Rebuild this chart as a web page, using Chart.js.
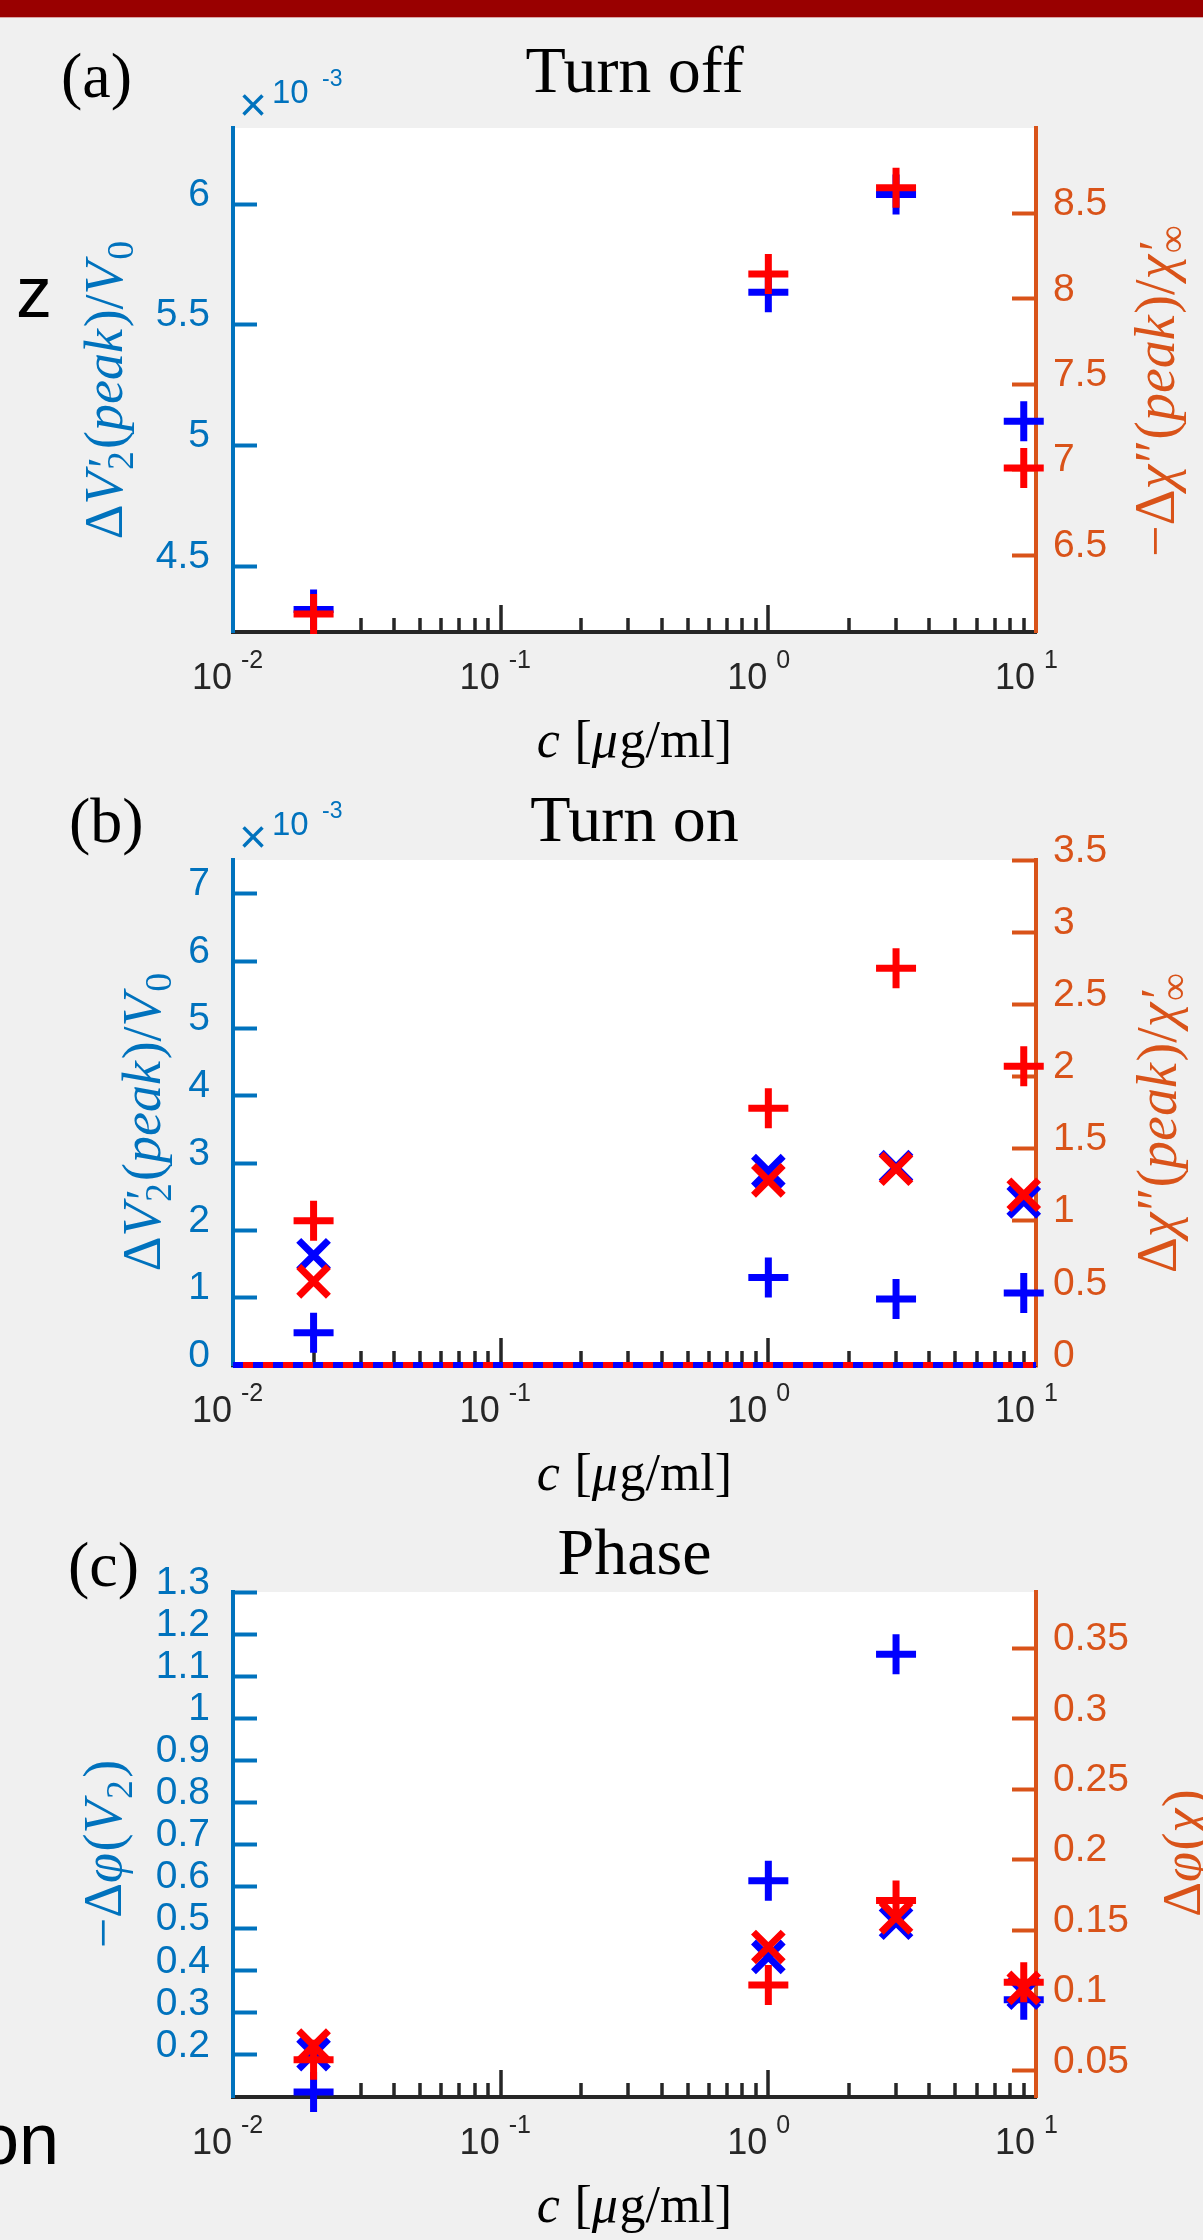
<!DOCTYPE html>
<html>
<head>
<meta charset="utf-8">
<script src="https://cdn.jsdelivr.net/npm/chart.js@4.4.1/dist/chart.umd.min.js"></script>
<style>
  body { margin: 0; background: #f0f0f0; width: 1203px; height: 2240px; position: relative; overflow: hidden; }
  #bar { position: absolute; left: 0; top: 0; width: 1203px; height: 17px; background: #990000; border-bottom: 1px solid #d9a3a3; }
  canvas { position: absolute; left: 0; top: 0; }
</style>
</head>
<body>
<div id="bar"></div>
<canvas id="pa" width="1203" height="2240"></canvas>
<canvas id="pb" width="1203" height="2240"></canvas>
<canvas id="pc" width="1203" height="2240"></canvas>
<script>
// concentration c [ug/ml]
const conc = [0.02, 1, 3, 9];

// (a) Turn off
const offV = [4.32, 5.635, 6.04, 5.10];      // dV2'(peak)/V0, x10^-3
const offChi = [6.155, 8.146, 8.65, 7.01];   // -dChi''(peak)/chi'inf

// (b) Turn on
const onVPlus = [0.48, 1.30, 0.98, 1.07];    // x10^-3
const onVCross = [1.63, 2.88, 2.94, 2.43];   // x10^-3
const onChiPlus = [1.00, 1.78, 2.75, 2.07];
const onChiCross = [0.58, 1.28, 1.36, 1.18];
const zeroX = [0.01, 10];
const zeroY = [0, 0];

// (c) Phase
const phVPlus = [0.112, 0.614, 1.152, 0.331];
const phVCross = [0.202, 0.433, 0.514, 0.348];
const phChiPlus = [0.058, 0.111, 0.171, 0.113];
const phChiCross = [0.068, 0.138, 0.159, 0.109];

// axis ranges and tick labels
const xRange = [0.01, 10];
const xMajor = [0.01, 0.1, 1, 10];
const xExp = ['-2', '-1', '0', '1'];
const rangeAL = [4.227, 6.315], ticksAL = [4.5, 5, 5.5, 6];
const rangeAR = [6.05, 9.0],    ticksAR = [6.5, 7, 7.5, 8, 8.5];
const rangeBL = [0, 7.5],       ticksBL = [0, 1, 2, 3, 4, 5, 6, 7];
const rangeBR = [0, 3.5],       ticksBR = [0, 0.5, 1, 1.5, 2, 2.5, 3, 3.5];
const rangeCL = [0.1, 1.3],     ticksCL = [0.2, 0.3, 0.4, 0.5, 0.6, 0.7, 0.8, 0.9, 1, 1.1, 1.2, 1.3];
const rangeCR = [0.0315, 0.39], ticksCR = [0.05, 0.1, 0.15, 0.2, 0.25, 0.3, 0.35];

const SERIF = '"Liberation Serif", "DejaVu Serif", serif';
const SANS = '"Liberation Sans", Arial, sans-serif';
const AX_BLUE = '#0072BD', AX_ORANGE = '#D95319', BLUE = '#0000FF', RED = '#FF0000', DARK = '#262626';

// minor + major tick values of the log axis
const xTickVals = [];
[-2, -1, 0].forEach(e => { for (let m = 1; m <= 9; m++) xTickVals.push(Number((m * Math.pow(10, e)).toPrecision(3))); });
xTickVals.push(10);

// rich text pieces for the LaTeX-like labels
const R = t => ({ t });
const I = t => ({ t, it: true });
const S = (sup, sub) => ({ sup, sub });

const labV = [R('Δ'), I('V'), S('′', '2'), R('('), I('peak'), R(')/'), I('V'), S('', '0')];
const labChiOff = [R('−Δ'), I('χ'), R('″'), R('('), I('peak'), R(')/'), I('χ'), S('′', '∞')];
const labChiOn = [R('Δ'), I('χ'), R('″'), R('('), I('peak'), R(')/'), I('χ'), S('′', '∞')];
const labPhV = [R('−Δ'), I('φ'), R('('), I('V'), S('', '2'), R(')')];
const labPhChi = [R('Δ'), I('φ'), R('('), I('χ'), R(')')];
const labX = [I('c'), R(' ['), I('μ'), R('g/ml]')];

function runWidth(ctx, r, size) {
  if (r.t !== undefined) {
    ctx.font = (r.it ? 'italic ' : '') + size + 'px ' + SERIF;
    return ctx.measureText(r.t).width + (r.it ? size * 0.03 : 0);
  }
  ctx.font = (size * 0.9) + 'px ' + SERIF;
  const a = ctx.measureText(r.sup).width;
  ctx.font = (size * 0.7) + 'px ' + SERIF;
  const b = ctx.measureText(r.sub).width;
  return Math.max(a, b) + size * 0.04;
}

// x, y: for rotated text x is the baseline and y the centre; otherwise x centre, y baseline
function drawRich(ctx, runs, size, x, y, rotated, color) {
  ctx.save();
  ctx.fillStyle = color;
  ctx.textBaseline = 'alphabetic';
  ctx.textAlign = 'left';
  const widths = runs.map(r => runWidth(ctx, r, size));
  const total = widths.reduce((s, w) => s + w, 0);
  ctx.translate(x, y);
  if (rotated) ctx.rotate(-Math.PI / 2);
  let px = -total / 2;
  runs.forEach((r, i) => {
    if (r.t !== undefined) {
      ctx.font = (r.it ? 'italic ' : '') + size + 'px ' + SERIF;
      ctx.fillText(r.t, px, 0);
    } else {
      ctx.font = (size * 0.9) + 'px ' + SERIF;
      ctx.fillText(r.sup, px + size * 0.04, -size * 0.02);
      ctx.font = (size * 0.7) + 'px ' + SERIF;
      ctx.fillText(r.sub, px, size * 0.2);
    }
    px += widths[i];
  });
  ctx.restore();
}

function marks(ys, color, style, axis, order) {
  const r = style === 'cross' ? 20 : 21;
  return {
    data: conc.map((c, i) => ({ x: c, y: ys[i] })),
    yAxisID: axis, order: order, clip: false, showLine: false,
    pointStyle: style, pointRadius: r, pointHoverRadius: r,
    pointBorderWidth: 7, pointHoverBorderWidth: 7,
    pointBorderColor: color, pointBackgroundColor: color
  };
}

function zeroLine(color, axis, offset) {
  return {
    data: zeroX.map((x, i) => ({ x, y: zeroY[i] })),
    yAxisID: axis, order: 2, clip: false, showLine: true,
    borderColor: color, borderWidth: 6, borderDash: [10, 10], borderDashOffset: offset,
    pointRadius: 0, pointHoverRadius: 0
  };
}

function yAxis(pos, color, range, ticks) {
  return {
    type: 'linear', position: pos, min: range[0], max: range[1],
    afterBuildTicks: s => { s.ticks = ticks.map(v => ({ value: v })); },
    afterFit: s => { s.width = pos === 'left' ? 233 : 167; },
    border: { display: true, color: color, width: 4 },
    grid: { display: true, drawOnChartArea: false, drawTicks: true, tickLength: -24, tickWidth: 4, tickColor: color, color: color },
    ticks: {
      color: color, autoSkip: false, padding: pos === 'left' ? 47 : 41, labelOffset: -9,
      font: { family: SANS, size: 39 },
      callback: v => String(v)
    }
  };
}

function xAxis() {
  return {
    type: 'logarithmic', position: 'bottom', min: xRange[0], max: xRange[1],
    afterBuildTicks: s => { s.ticks = xTickVals.map(v => ({ value: v, major: xMajor.includes(v) })); },
    afterFit: s => { s.height = 60; },
    border: { display: true, color: DARK, width: 4 },
    grid: { display: false },
    ticks: { display: false }
  };
}

function deco(p) {
  return {
    id: 'deco',
    beforeDraw(chart) {
      const ca = chart.chartArea, ctx = chart.ctx;
      ctx.save();
      ctx.fillStyle = '#ffffff';
      ctx.fillRect(ca.left, ca.top, ca.right - ca.left, ca.bottom - ca.top);
      ctx.restore();
    },
    beforeDatasetsDraw(chart) {
      const xs = chart.scales.x, ca = chart.chartArea, ctx = chart.ctx;
      ctx.save();
      ctx.strokeStyle = DARK;
      ctx.lineWidth = 3.5;
      xs.ticks.forEach(t => {
        if (t.value <= xRange[0] || t.value >= xRange[1]) return;
        const px = Math.round(xs.getPixelForValue(t.value));
        ctx.beginPath();
        ctx.moveTo(px, ca.bottom);
        ctx.lineTo(px, ca.bottom - (t.major ? 27 : 14));
        ctx.stroke();
      });
      ctx.restore();
    },
    afterDraw(chart) {
      const xs = chart.scales.x, ca = chart.chartArea, ctx = chart.ctx;
      ctx.save();
      // x tick labels 10^n
      ctx.fillStyle = DARK;
      ctx.textBaseline = 'alphabetic';
      xMajor.forEach((v, i) => {
        const px = xs.getPixelForValue(v);
        ctx.font = '36px ' + SANS;
        ctx.textAlign = 'right';
        ctx.fillText('10', px - 1, ca.bottom + 57);
        ctx.font = '25px ' + SANS;
        ctx.textAlign = 'left';
        ctx.fillText(xExp[i], px + 8, ca.bottom + 36);
      });
      // panel title and tag
      ctx.fillStyle = '#000000';
      ctx.font = '66px ' + SERIF;
      ctx.textAlign = 'center';
      ctx.fillText(p.title, (ca.left + ca.right) / 2, p.titleY);
      ctx.font = '64px ' + SERIF;
      ctx.textAlign = 'left';
      ctx.fillText(p.tag, p.tagX, p.tagY);
      // x10^-3 multiplier
      if (p.mult) {
        ctx.fillStyle = AX_BLUE;
        ctx.font = '48px ' + SANS;
        ctx.textAlign = 'center';
        ctx.textBaseline = 'middle';
        ctx.fillText('×', 253, ca.top - 20);
        ctx.textAlign = 'left';
        ctx.textBaseline = 'alphabetic';
        ctx.font = '33px ' + SANS;
        ctx.fillText('10', 272, ca.top - 25);
        ctx.font = '23px ' + SANS;
        ctx.fillText('-3', 322, ca.top - 42);
      }
      // stray text from the neighbouring figure
      if (p.side) {
        ctx.fillStyle = '#000000';
        ctx.font = '72px ' + SANS;
        ctx.textAlign = p.side.align;
        ctx.fillText(p.side.t, p.side.x, p.side.y);
      }
      ctx.restore();
      // axis titles
      drawRich(ctx, p.left, p.leftSize, p.leftX, p.leftY, true, AX_BLUE);
      drawRich(ctx, p.right, p.rightSize, p.rightX, p.rightY, true, AX_ORANGE);
      drawRich(ctx, labX, 52, (ca.left + ca.right) / 2, ca.bottom + 125, false, '#000000');
    }
  };
}

function makePanel(id, p) {
  new Chart(document.getElementById(id), {
    type: 'scatter',
    data: { datasets: p.datasets },
    options: {
      responsive: false, animation: false, events: [],
      layout: { padding: { top: p.top, bottom: 2240 - p.bottom - 60, left: 0, right: 0 } },
      plugins: { legend: { display: false }, tooltip: { enabled: false }, title: { display: false } },
      scales: { x: xAxis(), y: yAxis('left', AX_BLUE, p.rl, p.tl), y1: yAxis('right', AX_ORANGE, p.rr, p.tr) }
    },
    plugins: [deco(p)]
  });
}

makePanel('pa', {
  top: 128, bottom: 632, rl: rangeAL, tl: ticksAL, rr: rangeAR, tr: ticksAR,
  title: 'Turn off', titleY: 92, tag: '(a)', tagX: 61, tagY: 97, mult: true,
  left: labV, leftSize: 54, leftX: 122, leftY: 389,
  right: labChiOff, rightSize: 56, rightX: 1174, rightY: 390,
  side: { t: 'z', x: 16, y: 317, align: 'left' },
  datasets: [
    marks(offChi, RED, 'cross', 'y1', 0),
    marks(offV, BLUE, 'cross', 'y', 1)
  ]
});

makePanel('pb', {
  top: 860, bottom: 1365, rl: rangeBL, tl: ticksBL, rr: rangeBR, tr: ticksBR,
  title: 'Turn on', titleY: 841, tag: '(b)', tagX: 69, tagY: 842, mult: true,
  left: labV, leftSize: 54, leftX: 160, leftY: 1121,
  right: labChiOn, rightSize: 56, rightX: 1176, rightY: 1122,
  datasets: [
    marks(onChiPlus, RED, 'cross', 'y1', 0),
    marks(onChiCross, RED, 'crossRot', 'y1', 0),
    marks(onVPlus, BLUE, 'cross', 'y', 1),
    marks(onVCross, BLUE, 'crossRot', 'y', 1),
    zeroLine(BLUE, 'y', 0),
    zeroLine(RED, 'y1', 10)
  ]
});

makePanel('pc', {
  top: 1592, bottom: 2097, rl: rangeCL, tl: ticksCL, rr: rangeCR, tr: ticksCR,
  title: 'Phase', titleY: 1574, tag: '(c)', tagX: 68, tagY: 1586, mult: false,
  left: labPhV, leftSize: 54, leftX: 121, leftY: 1854,
  right: labPhChi, rightSize: 54, rightX: 1200, rightY: 1853,
  side: { t: 'on', x: 59, y: 2164, align: 'right' },
  datasets: [
    marks(phChiPlus, RED, 'cross', 'y1', 0),
    marks(phChiCross, RED, 'crossRot', 'y1', 0),
    marks(phVPlus, BLUE, 'cross', 'y', 1),
    marks(phVCross, BLUE, 'crossRot', 'y', 1)
  ]
});
</script>
</body>
</html>
